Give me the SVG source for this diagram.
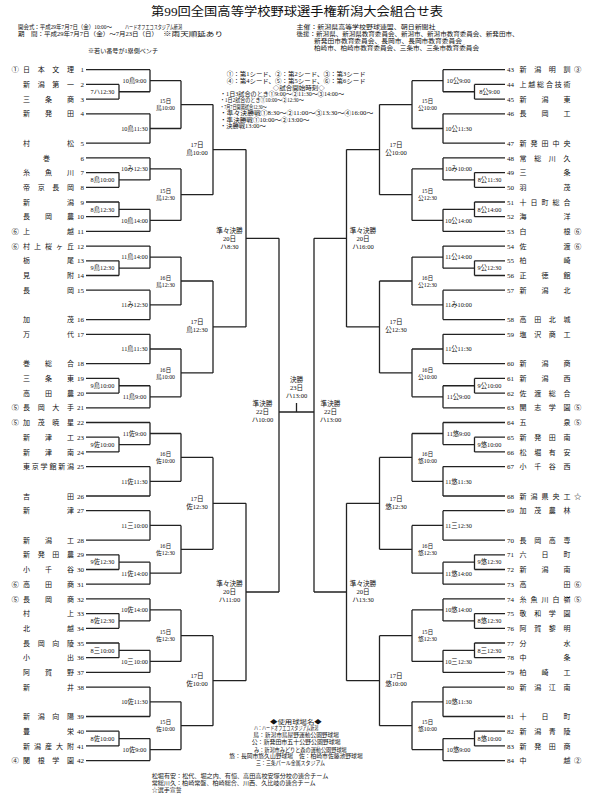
<svg xmlns="http://www.w3.org/2000/svg" width="594" height="800" viewBox="0 0 594 800">
<style>
.ln{fill:none;stroke:#222;stroke-width:1.3}
text{font-family:"Liberation Serif","Noto Sans CJK JP",serif;fill:#111}
.nm{font-size:7px}
.no{font-size:7px;text-anchor:end}
.nr{font-size:7px}
.sd{font-size:7.4px}
.ml{font-size:6.3px;text-anchor:middle}
.r3{font-size:5.8px;text-anchor:middle}
.bg{font-size:6.6px;text-anchor:middle}
.hd{font-size:6px}
.lg{font-size:6.2px}
.ft{font-size:5.6px}
.ttl{font-size:12.5px;text-anchor:middle}
</style>
<rect width="594" height="800" fill="#fff"/>

<g id="header">
<text class="ttl" x="297" y="15.5" textLength="292" lengthAdjust="spacingAndGlyphs">第99回全国高等学校野球選手権新潟大会組合せ表</text>
<text class="hd" x="18" y="29.3" textLength="94" lengthAdjust="spacingAndGlyphs">開会式：平成29年7月7日（金）10:00～</text>
<text class="hd" x="125" y="29.3" textLength="57" lengthAdjust="spacingAndGlyphs">ハードオフエコスタジアム新潟</text>
<text class="hd" x="18" y="36" textLength="140" lengthAdjust="spacingAndGlyphs">期　間：平成29年7月7日（金）～7月23日（日）</text>
<text class="hd" x="163" y="36" textLength="60" lengthAdjust="spacingAndGlyphs">※雨天順延あり</text>
<text class="hd" x="88" y="53.4" textLength="70" lengthAdjust="spacingAndGlyphs">※若い番号が1塁側ベンチ</text>
<text class="hd" x="296.5" y="29.3" textLength="139" lengthAdjust="spacingAndGlyphs">主催：新潟県高等学校野球連盟、朝日新聞社</text>
<text class="hd" x="296.5" y="36" textLength="222" lengthAdjust="spacingAndGlyphs">後援：新潟県、新潟県教育委員会、新潟市、新潟市教育委員会、新発田市、</text>
<text class="hd" x="314" y="43" textLength="148" lengthAdjust="spacingAndGlyphs">新発田市教育委員会、長岡市、長岡市教育委員会</text>
<text class="hd" x="314" y="49.6" textLength="165" lengthAdjust="spacingAndGlyphs">柏崎市、柏崎市教育委員会、三条市、三条市教育委員会</text>
</g>

<g id="legend">
<text class="lg" x="226.7" y="76.2" textLength="139" lengthAdjust="spacingAndGlyphs">①：第1シード、②：第2シード、③：第3シード</text>
<text class="lg" x="226.7" y="83.2" textLength="139" lengthAdjust="spacingAndGlyphs">④：第4シード、⑤：第5シード、⑥：第6シード</text>
<text class="lg" x="272.7" y="89.9" textLength="52" lengthAdjust="spacingAndGlyphs">◇試合開始時刻◇</text>
<text class="lg" x="220" y="95.5" textLength="124" lengthAdjust="spacingAndGlyphs">・1日3試合のとき①9:00～②11:30～③14:00～</text>
<text class="lg" x="220" y="102.2" textLength="83.7" lengthAdjust="spacingAndGlyphs">・1日2試合のとき①10:00～②12:30～</text>
<text class="lg" x="220" y="108.5" textLength="46.7" lengthAdjust="spacingAndGlyphs">・7月7日開幕試合12:30～</text>
<text class="lg" x="220" y="115.2" textLength="153.3" lengthAdjust="spacingAndGlyphs">・準々決勝戦①8:30～②11:00～③13:30～④16:00～</text>
<text class="lg" x="220" y="121.5" textLength="89.3" lengthAdjust="spacingAndGlyphs">・準決勝戦①10:00～②13:00～</text>
<text class="lg" x="220" y="127.9" textLength="45.7" lengthAdjust="spacingAndGlyphs">・決勝戦13:00～</text>
</g>

<g id="connectors" class="ln">
<path d="M86 69.7H150M86 113.8H150M86 143.2H150M86 157.9H150M86 231.4H150M86 246.1H150M86 290.2H150M86 319.6H150M86 334.3H150M86 363.7H150M86 407.8H150M86 422.5H150M86 466.6H150M86 496H150M86 510.7H150M86 540.1H150M86 584.2H150M86 598.9H150M86 672.4H150M86 687.1H150M86 716.5H150M86 760.6H150"/>
<path d="M86 84.4H119M86 99.1H119M86 172.6H119M86 187.3H119M86 202H119M86 216.7H119M86 260.8H119M86 275.5H119M86 378.4H119M86 393.1H119M86 437.2H119M86 451.9H119M86 554.8H119M86 569.5H119M86 613.6H119M86 628.3H119M86 643H119M86 657.7H119M86 731.2H119M86 745.9H119"/>
<path d="M505 69.7H443M505 113.8H443M505 143.2H443M505 157.9H443M505 231.4H443M505 246.1H443M505 290.2H443M505 319.6H443M505 334.3H443M505 363.7H443M505 407.8H443M505 422.5H443M505 466.6H443M505 496H443M505 510.7H443M505 540.1H443M505 584.2H443M505 598.9H443M505 672.4H443M505 687.1H443M505 716.5H443M505 760.6H443"/>
<path d="M505 84.4H474.5M505 99.1H474.5M505 172.6H474.5M505 187.3H474.5M505 202H474.5M505 216.7H474.5M505 260.8H474.5M505 275.5H474.5M505 378.4H474.5M505 393.1H474.5M505 437.2H474.5M505 451.9H474.5M505 554.8H474.5M505 569.5H474.5M505 613.6H474.5M505 628.3H474.5M505 643H474.5M505 657.7H474.5M505 731.2H474.5M505 745.9H474.5"/>
<path d="M119 84.4V99.1M119 91.75H150M119 172.6V187.3M119 179.95H150M119 202V216.7M119 209.35H150M119 260.8V275.5M119 268.15H150M119 378.4V393.1M119 385.75H150M119 437.2V451.9M119 444.55H150M119 554.8V569.5M119 562.15H150M119 613.6V628.3M119 620.95H150M119 643V657.7M119 650.35H150M119 731.2V745.9M119 738.55H150"/>
<path d="M474.5 84.4V99.1M474.5 91.75H443M474.5 172.6V187.3M474.5 179.95H443M474.5 202V216.7M474.5 209.35H443M474.5 260.8V275.5M474.5 268.15H443M474.5 378.4V393.1M474.5 385.75H443M474.5 437.2V451.9M474.5 444.55H443M474.5 554.8V569.5M474.5 562.15H443M474.5 613.6V628.3M474.5 620.95H443M474.5 643V657.7M474.5 650.35H443M474.5 731.2V745.9M474.5 738.55H443"/>
<path d="M150 69.7V91.75M150 80.7H181M150 113.8V143.2M150 128.5H181M150 157.9V179.95M150 168.9H181M150 209.35V231.4M150 220.4H181M150 246.1V268.15M150 257.1H181M150 290.2V319.6M150 304.9H181M150 334.3V363.7M150 349H181M150 385.75V407.8M150 396.8H181M150 422.5V444.55M150 433.5H181M150 466.6V496M150 481.3H181M150 510.7V540.1M150 525.4H181M150 562.15V584.2M150 573.2H181M150 598.9V620.95M150 609.9H181M150 650.35V672.4M150 661.4H181M150 687.1V716.5M150 701.8H181M150 738.55V760.6M150 749.6H181"/>
<path d="M443 69.7V91.75M443 80.7H412M443 113.8V143.2M443 128.5H412M443 157.9V179.95M443 168.9H412M443 209.35V231.4M443 220.4H412M443 246.1V268.15M443 257.1H412M443 290.2V319.6M443 304.9H412M443 334.3V363.7M443 349H412M443 385.75V407.8M443 396.8H412M443 422.5V444.55M443 433.5H412M443 466.6V496M443 481.3H412M443 510.7V540.1M443 525.4H412M443 562.15V584.2M443 573.2H412M443 598.9V620.95M443 609.9H412M443 650.35V672.4M443 661.4H412M443 687.1V716.5M443 701.8H412M443 738.55V760.6M443 749.6H412"/>
<path d="M181 80.7V128.5M181 104.6H213M181 168.9V220.4M181 194.65H213M181 257.1V304.9M181 281H213M181 349V396.8M181 372.9H213M181 433.5V481.3M181 457.4H213M181 525.4V573.2M181 549.3H213M181 609.9V661.4M181 635.65H213M181 701.8V749.6M181 725.7H213"/>
<path d="M412 80.7V128.5M412 104.6H379.5M412 168.9V220.4M412 194.65H379.5M412 257.1V304.9M412 281H379.5M412 349V396.8M412 372.9H379.5M412 433.5V481.3M412 457.4H379.5M412 525.4V573.2M412 549.3H379.5M412 609.9V661.4M412 635.65H379.5M412 701.8V749.6M412 725.7H379.5"/>
<path d="M213 104.6V194.65M213 149.6H246M213 281V372.9M213 326.95H246M213 457.4V549.3M213 503.35H246M213 635.65V725.7M213 680.7H246"/>
<path d="M379.5 104.6V194.65M379.5 149.6H346.5M379.5 281V372.9M379.5 326.95H346.5M379.5 457.4V549.3M379.5 503.35H346.5M379.5 635.65V725.7M379.5 680.7H346.5"/>
<path d="M246 149.6V326.95M246 238.3H279M246 503.35V680.7M246 592H279"/>
<path d="M346.5 149.6V326.95M346.5 238.3H314M346.5 503.35V680.7M346.5 592H314"/>
<path d="M279 238.3V592M314 238.3V592M279 412H314M296.5 403V412"/>
</g>

<g id="match-labels">
<text class="ml" x="102.5" y="94.05">7ハ12:30</text>
<text class="ml" x="102.5" y="182.25">8鳥10:00</text>
<text class="ml" x="102.5" y="211.65">8鳥12:30</text>
<text class="ml" x="102.5" y="270.45">9鳥12:30</text>
<text class="ml" x="102.5" y="388.05">9鳥10:00</text>
<text class="ml" x="102.5" y="446.85">9佐10:00</text>
<text class="ml" x="102.5" y="564.45">9佐12:30</text>
<text class="ml" x="102.5" y="623.25">8佐12:30</text>
<text class="ml" x="102.5" y="652.65">8三10:00</text>
<text class="ml" x="102.5" y="740.85">8佐10:00</text>
<text class="ml" x="489.5" y="94.05">8公9:00</text>
<text class="ml" x="489.5" y="182.25">8公11:30</text>
<text class="ml" x="489.5" y="211.65">8公14:00</text>
<text class="ml" x="489.5" y="270.45">9公12:30</text>
<text class="ml" x="489.5" y="388.05">9公10:00</text>
<text class="ml" x="489.5" y="446.85">9悠10:00</text>
<text class="ml" x="489.5" y="564.45">9悠12:30</text>
<text class="ml" x="489.5" y="623.25">8悠12:30</text>
<text class="ml" x="489.5" y="652.65">8三12:30</text>
<text class="ml" x="489.5" y="740.85">8悠10:00</text>
<text class="ml" x="134.5" y="83">10鳥9:00</text>
<text class="ml" x="134.5" y="130.8">10鳥11:30</text>
<text class="ml" x="134.5" y="171.2">10み12:30</text>
<text class="ml" x="134.5" y="222.7">10鳥14:00</text>
<text class="ml" x="134.5" y="259.4">11鳥14:00</text>
<text class="ml" x="134.5" y="307.2">11み12:30</text>
<text class="ml" x="134.5" y="351.3">11鳥11:30</text>
<text class="ml" x="134.5" y="399.1">11鳥9:00</text>
<text class="ml" x="134.5" y="435.8">11佐9:00</text>
<text class="ml" x="134.5" y="483.6">11佐11:30</text>
<text class="ml" x="134.5" y="527.7">11三10:00</text>
<text class="ml" x="134.5" y="575.5">11佐14:00</text>
<text class="ml" x="134.5" y="612.2">10佐14:00</text>
<text class="ml" x="134.5" y="663.7">10三10:00</text>
<text class="ml" x="134.5" y="704.1">10佐11:30</text>
<text class="ml" x="134.5" y="751.9">10佐9:00</text>
<text class="ml" x="458.5" y="83">10公9:00</text>
<text class="ml" x="458.5" y="130.8">10公11:30</text>
<text class="ml" x="458.5" y="171.2">10み10:00</text>
<text class="ml" x="458.5" y="222.7">10公14:00</text>
<text class="ml" x="458.5" y="259.4">11公14:00</text>
<text class="ml" x="458.5" y="307.2">11み10:00</text>
<text class="ml" x="458.5" y="351.3">11公11:30</text>
<text class="ml" x="458.5" y="399.1">11公9:00</text>
<text class="ml" x="458.5" y="435.8">11悠9:00</text>
<text class="ml" x="458.5" y="483.6">11悠11:30</text>
<text class="ml" x="458.5" y="527.7">11三12:30</text>
<text class="ml" x="458.5" y="575.5">11悠14:00</text>
<text class="ml" x="458.5" y="612.2">10悠14:00</text>
<text class="ml" x="458.5" y="663.7">10三12:30</text>
<text class="ml" x="458.5" y="704.1">10悠11:30</text>
<text class="ml" x="458.5" y="751.9">10悠9:00</text>

<text class="r3" x="165.5" y="103.2">15日</text><text class="r3" x="165.5" y="110.2">鳥10:00</text>
<text class="r3" x="165.5" y="193.25">15日</text><text class="r3" x="165.5" y="200.25">鳥12:30</text>
<text class="r3" x="165.5" y="279.6">16日</text><text class="r3" x="165.5" y="286.6">鳥12:30</text>
<text class="r3" x="165.5" y="371.5">16日</text><text class="r3" x="165.5" y="378.5">鳥10:00</text>
<text class="r3" x="165.5" y="456">16日</text><text class="r3" x="165.5" y="463">佐10:00</text>
<text class="r3" x="165.5" y="547.9">16日</text><text class="r3" x="165.5" y="554.9">佐12:30</text>
<text class="r3" x="165.5" y="634.25">15日</text><text class="r3" x="165.5" y="641.25">佐12:30</text>
<text class="r3" x="165.5" y="724.3">15日</text><text class="r3" x="165.5" y="731.3">佐10:00</text>
<text class="r3" x="427.5" y="103.2">15日</text><text class="r3" x="427.5" y="110.2">公10:00</text>
<text class="r3" x="427.5" y="193.25">15日</text><text class="r3" x="427.5" y="200.25">公12:30</text>
<text class="r3" x="427.5" y="279.6">16日</text><text class="r3" x="427.5" y="286.6">公12:30</text>
<text class="r3" x="427.5" y="371.5">16日</text><text class="r3" x="427.5" y="378.5">公10:00</text>
<text class="r3" x="427.5" y="456">16日</text><text class="r3" x="427.5" y="463">悠10:00</text>
<text class="r3" x="427.5" y="547.9">16日</text><text class="r3" x="427.5" y="554.9">悠12:30</text>
<text class="r3" x="427.5" y="634.25">15日</text><text class="r3" x="427.5" y="641.25">悠12:30</text>
<text class="r3" x="427.5" y="724.3">15日</text><text class="r3" x="427.5" y="731.3">悠10:00</text>

<text class="bg" x="197" y="147">17日</text><text class="bg" x="197" y="155">鳥10:00</text>
<text class="bg" x="197" y="324.35">17日</text><text class="bg" x="197" y="332.35">鳥12:30</text>
<text class="bg" x="197" y="500.75">17日</text><text class="bg" x="197" y="508.75">佐12:30</text>
<text class="bg" x="197" y="678.1">17日</text><text class="bg" x="197" y="686.1">佐10:00</text>
<text class="bg" x="396" y="147">17日</text><text class="bg" x="396" y="155">公10:00</text>
<text class="bg" x="396" y="324.35">17日</text><text class="bg" x="396" y="332.35">公12:30</text>
<text class="bg" x="396" y="500.75">17日</text><text class="bg" x="396" y="508.75">悠12:30</text>
<text class="bg" x="396" y="678.1">17日</text><text class="bg" x="396" y="686.1">悠10:00</text>

<text class="bg" x="229.5" y="232.7">準々決勝</text><text class="bg" x="229.5" y="240.7">20日</text><text class="bg" x="229.5" y="248.7">ハ8:30</text>
<text class="bg" x="229.5" y="586.4">準々決勝</text><text class="bg" x="229.5" y="594.4">20日</text><text class="bg" x="229.5" y="602.4">ハ11:00</text>
<text class="bg" x="363" y="232.7">準々決勝</text><text class="bg" x="363" y="240.7">20日</text><text class="bg" x="363" y="248.7">ハ16:00</text>
<text class="bg" x="363" y="586.4">準々決勝</text><text class="bg" x="363" y="594.4">20日</text><text class="bg" x="363" y="602.4">ハ13:30</text>

<text class="bg" x="262.5" y="406.4">準決勝</text><text class="bg" x="262.5" y="414.2">22日</text><text class="bg" x="262.5" y="421.8">ハ10:00</text>
<text class="bg" x="330.5" y="406.4">準決勝</text><text class="bg" x="330.5" y="414.2">22日</text><text class="bg" x="330.5" y="421.8">ハ13:00</text>
<text class="bg" x="296.5" y="381.7">決勝</text><text class="bg" x="296.5" y="389.7">23日</text><text class="bg" x="296.5" y="397.7">ハ13:00</text>
</g>

<g id="team-1" transform="translate(0 69.7)"><text class="sd" x="11.5" y="2.6">①</text><text class="nm" x="23 37.7 52.3 67" y="2.6">日本文理</text><text class="no" x="84" y="2.6">1</text></g>
<g id="team-2" transform="translate(0 84.4)"><text class="nm" x="23 37.7 52.3 67" y="2.6">新潟第一</text><text class="no" x="84" y="2.6">2</text></g>
<g id="team-3" transform="translate(0 99.1)"><text class="nm" x="23 45 67" y="2.6">三条商</text><text class="no" x="84" y="2.6">3</text></g>
<g id="team-4" transform="translate(0 113.8)"><text class="nm" x="23 45 67" y="2.6">新発田</text><text class="no" x="84" y="2.6">4</text></g>
<g id="team-5" transform="translate(0 143.2)"><text class="nm" x="23 67" y="2.6">村松</text><text class="no" x="84" y="2.6">5</text></g>
<g id="team-6" transform="translate(0 157.9)"><text class="nm" x="43" y="2.6">巻</text><text class="no" x="84" y="2.6">6</text></g>
<g id="team-7" transform="translate(0 172.6)"><text class="nm" x="23 45 67" y="2.6">糸魚川</text><text class="no" x="84" y="2.6">7</text></g>
<g id="team-8" transform="translate(0 187.3)"><text class="nm" x="23 37.7 52.3 67" y="2.6">帝京長岡</text><text class="no" x="84" y="2.6">8</text></g>
<g id="team-9" transform="translate(0 202)"><text class="nm" x="23 67" y="2.6">新潟</text><text class="no" x="84" y="2.6">9</text></g>
<g id="team-10" transform="translate(0 216.7)"><text class="nm" x="23 45 67" y="2.6">長岡農</text><text class="no" x="84" y="2.6">10</text></g>
<g id="team-11" transform="translate(0 231.4)"><text class="sd" x="11.5" y="2.6">⑥</text><text class="nm" x="23 67" y="2.6">上越</text><text class="no" x="84" y="2.6">11</text></g>
<g id="team-12" transform="translate(0 246.1)"><text class="sd" x="11.5" y="2.6">⑥</text><text class="nm" x="23 34 45 56 67" y="2.6">村上桜ヶ丘</text><text class="no" x="84" y="2.6">12</text></g>
<g id="team-13" transform="translate(0 260.8)"><text class="nm" x="23 67" y="2.6">栃尾</text><text class="no" x="84" y="2.6">13</text></g>
<g id="team-14" transform="translate(0 275.5)"><text class="nm" x="23 67" y="2.6">見附</text><text class="no" x="84" y="2.6">14</text></g>
<g id="team-15" transform="translate(0 290.2)"><text class="nm" x="23 67" y="2.6">長岡</text><text class="no" x="84" y="2.6">15</text></g>
<g id="team-16" transform="translate(0 319.6)"><text class="nm" x="23 67" y="2.6">加茂</text><text class="no" x="84" y="2.6">16</text></g>
<g id="team-17" transform="translate(0 334.3)"><text class="nm" x="23 67" y="2.6">万代</text><text class="no" x="84" y="2.6">17</text></g>
<g id="team-18" transform="translate(0 363.7)"><text class="nm" x="23 45 67" y="2.6">巻総合</text><text class="no" x="84" y="2.6">18</text></g>
<g id="team-19" transform="translate(0 378.4)"><text class="nm" x="23 45 67" y="2.6">三条東</text><text class="no" x="84" y="2.6">19</text></g>
<g id="team-20" transform="translate(0 393.1)"><text class="nm" x="23 45 67" y="2.6">高田農</text><text class="no" x="84" y="2.6">20</text></g>
<g id="team-21" transform="translate(0 407.8)"><text class="sd" x="11.5" y="2.6">⑤</text><text class="nm" x="23 37.7 52.3 67" y="2.6">長岡大手</text><text class="no" x="84" y="2.6">21</text></g>
<g id="team-22" transform="translate(0 422.5)"><text class="sd" x="11.5" y="2.6">⑤</text><text class="nm" x="23 37.7 52.3 67" y="2.6">加茂暁星</text><text class="no" x="84" y="2.6">22</text></g>
<g id="team-23" transform="translate(0 437.2)"><text class="nm" x="23 45 67" y="2.6">新津工</text><text class="no" x="84" y="2.6">23</text></g>
<g id="team-24" transform="translate(0 451.9)"><text class="nm" x="23 45 67" y="2.6">新津南</text><text class="no" x="84" y="2.6">24</text></g>
<g id="team-25" transform="translate(0 466.6)"><text class="nm" x="23 31.8 40.6 49.4 58.2 67" y="2.6">東京学館新潟</text><text class="no" x="84" y="2.6">25</text></g>
<g id="team-26" transform="translate(0 496)"><text class="nm" x="23 67" y="2.6">吉田</text><text class="no" x="84" y="2.6">26</text></g>
<g id="team-27" transform="translate(0 510.7)"><text class="nm" x="23 67" y="2.6">新津</text><text class="no" x="84" y="2.6">27</text></g>
<g id="team-28" transform="translate(0 540.1)"><text class="nm" x="23 45 67" y="2.6">新潟工</text><text class="no" x="84" y="2.6">28</text></g>
<g id="team-29" transform="translate(0 554.8)"><text class="nm" x="23 37.7 52.3 67" y="2.6">新発田農</text><text class="no" x="84" y="2.6">29</text></g>
<g id="team-30" transform="translate(0 569.5)"><text class="nm" x="23 45 67" y="2.6">小千谷</text><text class="no" x="84" y="2.6">30</text></g>
<g id="team-31" transform="translate(0 584.2)"><text class="sd" x="11.5" y="2.6">⑥</text><text class="nm" x="23 45 67" y="2.6">高田商</text><text class="no" x="84" y="2.6">31</text></g>
<g id="team-32" transform="translate(0 598.9)"><text class="sd" x="11.5" y="2.6">⑤</text><text class="nm" x="23 45 67" y="2.6">長岡商</text><text class="no" x="84" y="2.6">32</text></g>
<g id="team-33" transform="translate(0 613.6)"><text class="nm" x="23 67" y="2.6">村上</text><text class="no" x="84" y="2.6">33</text></g>
<g id="team-34" transform="translate(0 628.3)"><text class="nm" x="23 67" y="2.6">北越</text><text class="no" x="84" y="2.6">34</text></g>
<g id="team-35" transform="translate(0 643)"><text class="nm" x="23 37.7 52.3 67" y="2.6">長岡向陵</text><text class="no" x="84" y="2.6">35</text></g>
<g id="team-36" transform="translate(0 657.7)"><text class="nm" x="23 67" y="2.6">小出</text><text class="no" x="84" y="2.6">36</text></g>
<g id="team-37" transform="translate(0 672.4)"><text class="nm" x="23 45 67" y="2.6">阿賀野</text><text class="no" x="84" y="2.6">37</text></g>
<g id="team-38" transform="translate(0 687.1)"><text class="nm" x="23 67" y="2.6">新井</text><text class="no" x="84" y="2.6">38</text></g>
<g id="team-39" transform="translate(0 716.5)"><text class="nm" x="23 37.7 52.3 67" y="2.6">新潟向陽</text><text class="no" x="84" y="2.6">39</text></g>
<g id="team-40" transform="translate(0 731.2)"><text class="nm" x="23 67" y="2.6">豊栄</text><text class="no" x="84" y="2.6">40</text></g>
<g id="team-41" transform="translate(0 745.9)"><text class="nm" x="23 34 45 56 67" y="2.6">新潟産大附</text><text class="no" x="84" y="2.6">41</text></g>
<g id="team-42" transform="translate(0 760.6)"><text class="sd" x="11.5" y="2.6">④</text><text class="nm" x="23 37.7 52.3 67" y="2.6">関根学園</text><text class="no" x="84" y="2.6">42</text></g>

<g id="team-43" transform="translate(0 69.7)"><text class="nr" x="507" y="2.6">43</text><text class="nm" x="519.5 534.2 548.8 563.5" y="2.6">新潟明訓</text><text class="sd" x="574" y="2.6">③</text></g>
<g id="team-44" transform="translate(0 84.4)"><text class="nr" x="507" y="2.6">44</text><text class="nm" x="519.5 528.3 537.1 545.9 554.7 563.5" y="2.6">上越総合技術</text></g>
<g id="team-45" transform="translate(0 99.1)"><text class="nr" x="507" y="2.6">45</text><text class="nm" x="519.5 541.5 563.5" y="2.6">新潟東</text></g>
<g id="team-46" transform="translate(0 113.8)"><text class="nr" x="507" y="2.6">46</text><text class="nm" x="519.5 541.5 563.5" y="2.6">長岡工</text></g>
<g id="team-47" transform="translate(0 143.2)"><text class="nr" x="507" y="2.6">47</text><text class="nm" x="519.5 530.5 541.5 552.5 563.5" y="2.6">新発田中央</text></g>
<g id="team-48" transform="translate(0 157.9)"><text class="nr" x="507" y="2.6">48</text><text class="nm" x="519.5 534.2 548.8 563.5" y="2.6">常総川久</text></g>
<g id="team-49" transform="translate(0 172.6)"><text class="nr" x="507" y="2.6">49</text><text class="nm" x="519.5 563.5" y="2.6">三条</text></g>
<g id="team-50" transform="translate(0 187.3)"><text class="nr" x="507" y="2.6">50</text><text class="nm" x="519.5 563.5" y="2.6">羽茂</text></g>
<g id="team-51" transform="translate(0 202)"><text class="nr" x="507" y="2.6">51</text><text class="nm" x="519.5 530.5 541.5 552.5 563.5" y="2.6">十日町総合</text></g>
<g id="team-52" transform="translate(0 216.7)"><text class="nr" x="507" y="2.6">52</text><text class="nm" x="519.5 563.5" y="2.6">海洋</text></g>
<g id="team-53" transform="translate(0 231.4)"><text class="nr" x="507" y="2.6">53</text><text class="nm" x="519.5 563.5" y="2.6">白根</text><text class="sd" x="574" y="2.6">⑥</text></g>
<g id="team-54" transform="translate(0 246.1)"><text class="nr" x="507" y="2.6">54</text><text class="nm" x="519.5 563.5" y="2.6">佐渡</text><text class="sd" x="574" y="2.6">⑥</text></g>
<g id="team-55" transform="translate(0 260.8)"><text class="nr" x="507" y="2.6">55</text><text class="nm" x="519.5 563.5" y="2.6">柏崎</text></g>
<g id="team-56" transform="translate(0 275.5)"><text class="nr" x="507" y="2.6">56</text><text class="nm" x="519.5 541.5 563.5" y="2.6">正徳館</text></g>
<g id="team-57" transform="translate(0 290.2)"><text class="nr" x="507" y="2.6">57</text><text class="nm" x="519.5 541.5 563.5" y="2.6">新潟北</text></g>
<g id="team-58" transform="translate(0 319.6)"><text class="nr" x="507" y="2.6">58</text><text class="nm" x="519.5 534.2 548.8 563.5" y="2.6">高田北城</text></g>
<g id="team-59" transform="translate(0 334.3)"><text class="nr" x="507" y="2.6">59</text><text class="nm" x="519.5 534.2 548.8 563.5" y="2.6">塩沢商工</text></g>
<g id="team-60" transform="translate(0 363.7)"><text class="nr" x="507" y="2.6">60</text><text class="nm" x="519.5 541.5 563.5" y="2.6">新潟商</text></g>
<g id="team-61" transform="translate(0 378.4)"><text class="nr" x="507" y="2.6">61</text><text class="nm" x="519.5 541.5 563.5" y="2.6">新潟西</text></g>
<g id="team-62" transform="translate(0 393.1)"><text class="nr" x="507" y="2.6">62</text><text class="nm" x="519.5 534.2 548.8 563.5" y="2.6">佐渡総合</text></g>
<g id="team-63" transform="translate(0 407.8)"><text class="nr" x="507" y="2.6">63</text><text class="nm" x="519.5 534.2 548.8 563.5" y="2.6">開志学園</text><text class="sd" x="574" y="2.6">⑤</text></g>
<g id="team-64" transform="translate(0 422.5)"><text class="nr" x="507" y="2.6">64</text><text class="nm" x="519.5 563.5" y="2.6">五泉</text><text class="sd" x="574" y="2.6">⑤</text></g>
<g id="team-65" transform="translate(0 437.2)"><text class="nr" x="507" y="2.6">65</text><text class="nm" x="519.5 534.2 548.8 563.5" y="2.6">新発田南</text></g>
<g id="team-66" transform="translate(0 451.9)"><text class="nr" x="507" y="2.6">66</text><text class="nm" x="519.5 534.2 548.8 563.5" y="2.6">松堀有安</text></g>
<g id="team-67" transform="translate(0 466.6)"><text class="nr" x="507" y="2.6">67</text><text class="nm" x="519.5 534.2 548.8 563.5" y="2.6">小千谷西</text></g>
<g id="team-68" transform="translate(0 496)"><text class="nr" x="507" y="2.6">68</text><text class="nm" x="519.5 530.5 541.5 552.5 563.5" y="2.6">新潟県央工</text><text class="sd" x="574" y="2.6">☆</text></g>
<g id="team-69" transform="translate(0 510.7)"><text class="nr" x="507" y="2.6">69</text><text class="nm" x="519.5 534.2 548.8 563.5" y="2.6">加茂農林</text></g>
<g id="team-70" transform="translate(0 540.1)"><text class="nr" x="507" y="2.6">70</text><text class="nm" x="519.5 534.2 548.8 563.5" y="2.6">長岡高専</text></g>
<g id="team-71" transform="translate(0 554.8)"><text class="nr" x="507" y="2.6">71</text><text class="nm" x="519.5 541.5 563.5" y="2.6">六日町</text></g>
<g id="team-72" transform="translate(0 569.5)"><text class="nr" x="507" y="2.6">72</text><text class="nm" x="519.5 541.5 563.5" y="2.6">新潟南</text></g>
<g id="team-73" transform="translate(0 584.2)"><text class="nr" x="507" y="2.6">73</text><text class="nm" x="519.5 563.5" y="2.6">高田</text><text class="sd" x="574" y="2.6">⑥</text></g>
<g id="team-74" transform="translate(0 598.9)"><text class="nr" x="507" y="2.6">74</text><text class="nm" x="519.5 530.5 541.5 552.5 563.5" y="2.6">糸魚川白嶺</text><text class="sd" x="574" y="2.6">⑤</text></g>
<g id="team-75" transform="translate(0 613.6)"><text class="nr" x="507" y="2.6">75</text><text class="nm" x="519.5 534.2 548.8 563.5" y="2.6">敬和学園</text></g>
<g id="team-76" transform="translate(0 628.3)"><text class="nr" x="507" y="2.6">76</text><text class="nm" x="519.5 534.2 548.8 563.5" y="2.6">阿賀黎明</text></g>
<g id="team-77" transform="translate(0 643)"><text class="nr" x="507" y="2.6">77</text><text class="nm" x="519.5 563.5" y="2.6">分水</text></g>
<g id="team-78" transform="translate(0 657.7)"><text class="nr" x="507" y="2.6">78</text><text class="nm" x="519.5 563.5" y="2.6">中条</text></g>
<g id="team-79" transform="translate(0 672.4)"><text class="nr" x="507" y="2.6">79</text><text class="nm" x="519.5 541.5 563.5" y="2.6">柏崎工</text></g>
<g id="team-80" transform="translate(0 687.1)"><text class="nr" x="507" y="2.6">80</text><text class="nm" x="519.5 534.2 548.8 563.5" y="2.6">新潟江南</text></g>
<g id="team-81" transform="translate(0 716.5)"><text class="nr" x="507" y="2.6">81</text><text class="nm" x="519.5 541.5 563.5" y="2.6">十日町</text></g>
<g id="team-82" transform="translate(0 731.2)"><text class="nr" x="507" y="2.6">82</text><text class="nm" x="519.5 534.2 548.8 563.5" y="2.6">新潟青陵</text></g>
<g id="team-83" transform="translate(0 745.9)"><text class="nr" x="507" y="2.6">83</text><text class="nm" x="519.5 534.2 548.8 563.5" y="2.6">新発田商</text></g>
<g id="team-84" transform="translate(0 760.6)"><text class="nr" x="507" y="2.6">84</text><text class="nm" x="519.5 563.5" y="2.6">中越</text><text class="sd" x="574" y="2.6">②</text></g>

<g id="venues">
<text class="ft" x="270" y="723.8" textLength="51.7" lengthAdjust="spacingAndGlyphs">◆使用球場名◆</text>
<text class="ft" x="254" y="730.4" textLength="64.3" lengthAdjust="spacingAndGlyphs">ハ：ハードオフエコスタジアム新潟</text>
<text class="ft" x="253.3" y="737.1" textLength="85.7" lengthAdjust="spacingAndGlyphs">鳥：新潟市鳥屋野運動公園野球場</text>
<text class="ft" x="251.7" y="744.1" textLength="89" lengthAdjust="spacingAndGlyphs">公：新発田市五十公野公園野球場</text>
<text class="ft" x="254" y="751.8" textLength="92.7" lengthAdjust="spacingAndGlyphs">み：新潟市みどりと森の運動公園野球場</text>
<text class="ft" x="229.3" y="758.4" textLength="133.4" lengthAdjust="spacingAndGlyphs">悠：長岡市悠久山野球場　佐：柏崎市佐藤池野球場</text>
<text class="ft" x="256" y="764.8" textLength="69" lengthAdjust="spacingAndGlyphs">三：三条パール金属スタジアム</text>
</g>
<g id="notes">
<text class="ft" x="151.7" y="777.8" textLength="176.6" lengthAdjust="spacingAndGlyphs">松堀有安：松代、堀之内、有恒、高田高校安塚分校の連合チーム</text>
<text class="ft" x="151.7" y="785.1" textLength="164" lengthAdjust="spacingAndGlyphs">常総川久：柏崎常盤、柏崎総合、川西、久比岐の連合チーム</text>
<text class="ft" x="151.7" y="791.8" textLength="30" lengthAdjust="spacingAndGlyphs">☆選手宣誓</text>
</g>
</svg>
